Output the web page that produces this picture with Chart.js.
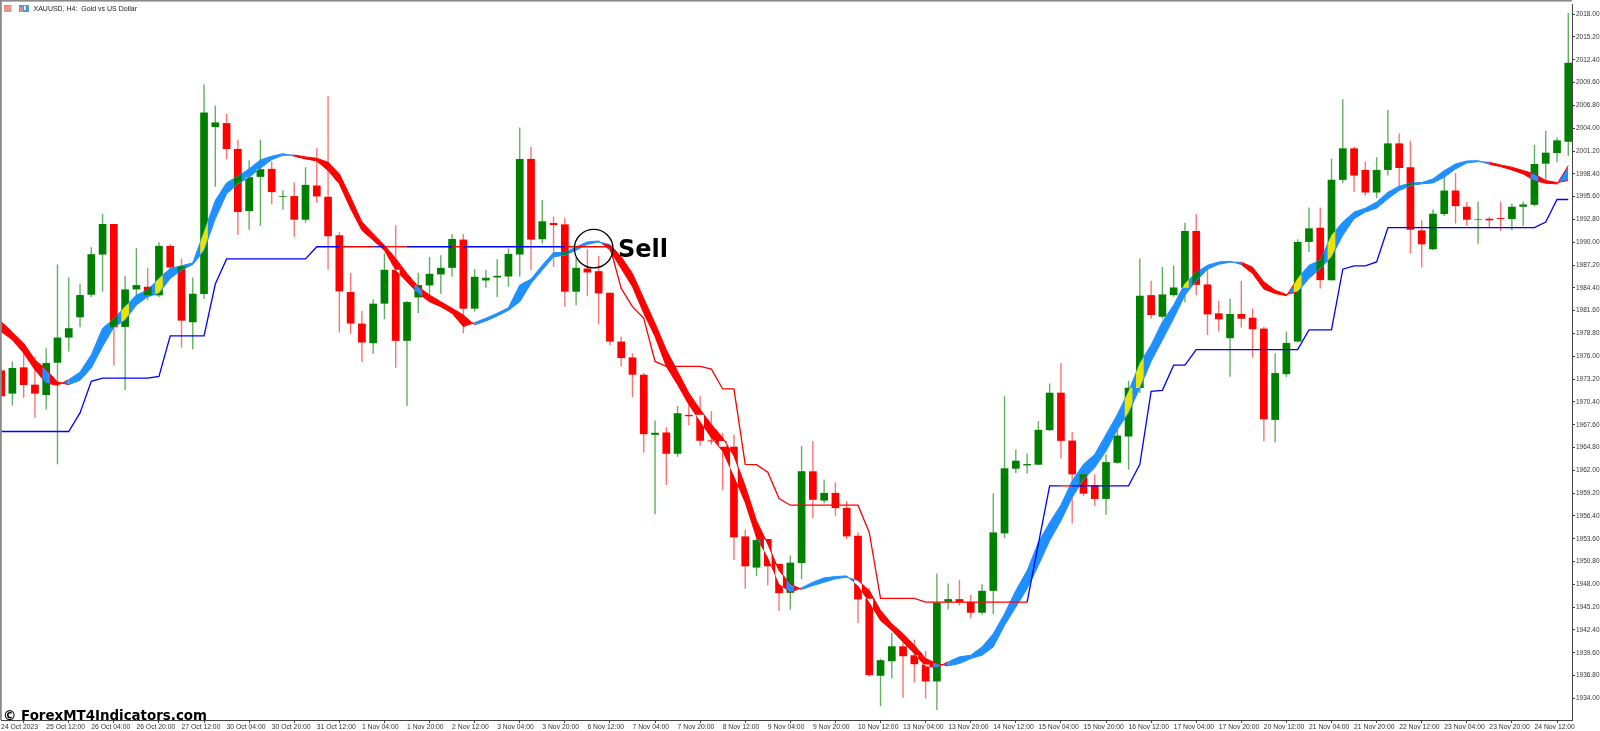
<!DOCTYPE html>
<html>
<head>
<meta charset="utf-8">
<title>XAUUSD, H4</title>
<script src="https://cdn.jsdelivr.net/npm/chart.js@4"></script>
<style>
    html, body { margin: 0; padding: 0; background: #fff; }
    #chart { display: block; }
</style>
</head>
<body>
<canvas id="chart" width="1600" height="731"></canvas>
<script>
const dateLabels = ['24 Oct 2023', '25 Oct 12:00', '26 Oct 04:00', '26 Oct 20:00', '27 Oct 12:00', '30 Oct 04:00', '30 Oct 20:00',
    '31 Oct 12:00', '1 Nov 04:00', '1 Nov 20:00', '2 Nov 12:00', '3 Nov 04:00', '3 Nov 20:00', '6 Nov 12:00', '7 Nov 04:00',
    '7 Nov 20:00', '8 Nov 12:00', '9 Nov 04:00', '9 Nov 20:00', '10 Nov 12:00', '13 Nov 04:00', '13 Nov 20:00', '14 Nov 12:00',
    '15 Nov 04:00', '15 Nov 20:00', '16 Nov 12:00', '17 Nov 04:00', '17 Nov 20:00', '20 Nov 12:00', '21 Nov 04:00', '21 Nov 20:00',
    '22 Nov 12:00', '23 Nov 04:00', '23 Nov 20:00', '24 Nov 12:00'];

const priceTicks = [2018.0, 2015.2, 2012.4, 2009.6, 2006.8, 2004.0, 2001.2, 1998.4, 1995.6, 1992.8, 1990.0, 1987.2, 1984.4, 1981.6, 1978.8, 1976.0,
    1973.2, 1970.4, 1967.6, 1964.8, 1962.0, 1959.2, 1956.4, 1953.6, 1950.8, 1948.0, 1945.2, 1942.4, 1939.6, 1936.8, 1934.0];

const opens = [
    1974.27, 1971.42, 1974.64, 1972.52, 1971.25, 1975.21, 1978.30, 1980.79, 1983.56, 1988.49,
    1992.24, 1979.61, 1984.21, 1984.54, 1983.48, 1989.55, 1987.07, 1980.18, 1983.64, 2004.14,
    2004.63, 2001.45, 1993.83, 1998.03, 1999.01, 1995.58, 1995.67, 1992.77, 1996.97, 1995.58,
    1990.86, 1983.89, 1980.02, 1977.61, 1982.46, 1986.62, 1977.90, 1983.23, 1984.70, 1986.05,
    1986.86, 1990.33, 1981.85, 1985.31, 1985.68, 1985.80, 1988.49, 2000.23, 1990.37, 1992.36,
    1992.20, 1983.93, 1986.78, 1986.45, 1983.80, 1977.81, 1975.86, 1973.74, 1966.36, 1966.65,
    1964.04, 1968.81, 1968.81, 1965.67, 1965.59, 1964.90, 1953.89, 1950.06, 1953.57, 1950.51,
    1946.96, 1950.63, 1961.88, 1958.29, 1959.23, 1957.40, 1953.97, 1946.23, 1936.78, 1938.57,
    1940.40, 1939.30, 1938.16, 1936.08, 1945.86, 1946.19, 1945.82, 1944.52, 1947.21, 1954.26,
    1962.20, 1962.61, 1962.69, 1966.93, 1971.53, 1965.66, 1961.51, 1960.16, 1958.49, 1962.93,
    1966.15, 1972.10, 1983.51, 1980.86, 1983.51, 1984.41, 1991.38, 1984.82, 1981.27, 1978.22,
    1981.19, 1980.74, 1979.40, 1968.19, 1973.81, 1977.81, 1990.04, 1991.79, 1985.35, 1997.66,
    2001.53, 1998.88, 1996.11, 1998.88, 2002.14, 1999.21, 1991.46, 1989.14, 1993.46, 1996.35,
    1994.36, 1992.77, 1992.89, 1992.97, 1992.85, 1994.36, 1994.60, 1999.65, 2000.96, 2002.34];

const closes = [
    1971.09, 1974.56, 1972.48, 1971.42, 1975.17, 1978.30, 1979.45, 1983.52, 1988.53, 1992.24,
    1979.57, 1984.21, 1984.74, 1983.48, 1989.55, 1986.90, 1980.38, 1983.68, 2005.94, 2004.71,
    2001.45, 1993.71, 1997.99, 1998.97, 1996.16, 1995.67, 1992.77, 1997.05, 1995.63, 1990.74,
    1983.97, 1980.02, 1977.69, 1982.46, 1986.62, 1977.90, 1982.66, 1984.74, 1986.13, 1986.86,
    1990.41, 1981.85, 1985.76, 1985.64, 1985.88, 1988.57, 2000.23, 1990.33, 1992.57, 1992.12,
    1983.93, 1986.86, 1986.29, 1983.72, 1977.81, 1975.78, 1973.74, 1966.44, 1966.61, 1964.04,
    1969.01, 1968.64, 1965.63, 1965.55, 1964.90, 1953.77, 1950.22, 1953.44, 1950.22, 1946.92,
    1950.67, 1961.88, 1958.38, 1959.23, 1957.36, 1953.89, 1946.15, 1936.86, 1938.69, 1940.40,
    1939.18, 1938.20, 1936.08, 1945.74, 1946.19, 1945.82, 1944.52, 1947.21, 1954.38, 1962.25,
    1963.18, 1962.77, 1966.97, 1971.53, 1965.62, 1961.51, 1959.14, 1958.49, 1963.01, 1966.27,
    1972.14, 1983.43, 1981.07, 1983.59, 1984.45, 1991.38, 1984.78, 1981.15, 1980.54, 1981.19,
    1980.62, 1979.32, 1968.27, 1973.94, 1977.64, 1990.03, 1991.71, 1985.35, 1997.66, 2001.53,
    1998.19, 1996.11, 1998.88, 2002.14, 1999.12, 1991.54, 1989.75, 1993.50, 1996.35, 1994.44,
    1992.77, 1992.85, 1992.69, 1992.85, 1994.36, 1994.64, 1999.61, 2001.00, 2002.51, 2012.04];

const highs = [
    1974.27, 1975.37, 1977.00, 1975.98, 1977.00, 1987.27, 1985.68, 1984.83, 1989.39, 1993.47,
    1992.24, 1985.89, 1989.31, 1986.86, 1990.00, 1989.76, 1988.00, 1985.68, 2009.36, 2006.79,
    2005.77, 2002.59, 2000.07, 2002.59, 1999.91, 1996.40, 1997.34, 1999.21, 2001.54, 2007.93,
    1991.26, 1986.25, 1981.57, 1982.99, 1988.62, 1992.08, 1982.79, 1986.25, 1988.21, 1988.41,
    1991.02, 1991.02, 1986.70, 1986.62, 1987.92, 1989.23, 2004.10, 2001.74, 1995.18, 1993.18,
    1992.97, 1988.12, 1989.14, 1988.33, 1983.80, 1978.43, 1976.39, 1973.94, 1968.11, 1967.30,
    1969.91, 1970.07, 1971.09, 1969.26, 1966.61, 1966.40, 1954.75, 1954.67, 1953.57, 1950.51,
    1951.53, 1964.98, 1965.59, 1960.86, 1960.54, 1958.25, 1954.38, 1947.58, 1938.89, 1942.07,
    1941.34, 1941.22, 1939.83, 1949.33, 1948.11, 1948.55, 1946.72, 1948.02, 1959.19, 1971.09,
    1964.56, 1964.07, 1968.03, 1972.67, 1975.16, 1966.72, 1962.32, 1961.51, 1963.95, 1968.72,
    1973.00, 1988.00, 1985.27, 1986.98, 1987.14, 1992.40, 1993.46, 1986.69, 1982.82, 1983.06,
    1985.27, 1981.88, 1979.64, 1976.38, 1979.03, 1990.36, 1994.27, 1994.27, 2000.27, 2007.56,
    2001.77, 1999.90, 2000.43, 2006.26, 2003.36, 2002.47, 1992.69, 1994.03, 1998.27, 1998.51,
    1994.93, 1995.01, 1993.09, 1995.01, 1994.72, 1995.01, 2001.98, 2003.69, 2002.87, 2018.16];

const lows = [
    1971.09, 1969.95, 1970.89, 1968.44, 1969.46, 1962.74, 1976.59, 1979.57, 1983.28, 1983.93,
    1974.88, 1971.87, 1982.38, 1982.87, 1983.24, 1985.56, 1977.08, 1976.88, 1983.03, 1996.81,
    2000.19, 1990.90, 1991.55, 1992.00, 1994.65, 1994.00, 1990.69, 1992.41, 1994.85, 1986.66,
    1978.92, 1978.75, 1975.29, 1976.31, 1980.55, 1974.60, 1969.91, 1981.32, 1983.36, 1983.64,
    1985.76, 1978.83, 1981.48, 1984.42, 1983.27, 1984.54, 1985.76, 1986.58, 1989.84, 1986.98,
    1982.09, 1982.26, 1983.36, 1979.93, 1977.37, 1974.76, 1971.01, 1964.16, 1956.62, 1960.21,
    1963.67, 1967.54, 1965.06, 1965.18, 1959.56, 1951.00, 1947.45, 1949.00, 1947.86, 1944.72,
    1944.89, 1948.64, 1956.13, 1957.97, 1956.42, 1953.53, 1943.26, 1936.65, 1933.07, 1936.45,
    1934.09, 1935.96, 1934.00, 1932.58, 1944.93, 1945.42, 1943.83, 1944.27, 1944.36, 1953.69,
    1961.67, 1961.59, 1962.65, 1966.84, 1963.46, 1955.47, 1958.86, 1957.63, 1956.54, 1962.81,
    1962.08, 1971.49, 1980.62, 1980.66, 1983.31, 1982.62, 1983.51, 1978.62, 1979.03, 1973.49,
    1979.52, 1975.85, 1965.58, 1965.46, 1973.45, 1977.69, 1988.81, 1984.33, 1985.30, 1997.25,
    1996.15, 1995.74, 1995.42, 1998.19, 1996.76, 1988.61, 1986.90, 1989.06, 1993.22, 1992.28,
    1991.99, 1989.83, 1991.87, 1991.42, 1991.50, 1991.99, 1994.40, 1997.29, 1999.82, 2000.63];

// ribbon: fast above slow paints blue, fast below slow paints red
const ribbonFast = [
    1979.04, 1978.02, 1976.39, 1974.35, 1972.72, 1972.44, 1973.13, 1974.07, 1976.19, 1979.45,
    1980.59, 1982.10, 1983.52, 1984.13, 1985.56, 1986.78, 1987.11, 1987.47, 1991.26, 1995.14,
    1997.30, 1998.11, 1999.01, 2000.11, 2000.56, 2000.88, 2000.56, 2000.23, 1999.99, 1998.80,
    1997.17, 1994.12, 1991.47, 1990.25, 1989.02, 1986.58, 1985.15, 1983.72, 1982.70, 1982.09,
    1981.28, 1979.65, 1980.14, 1980.67, 1981.28, 1981.97, 1984.74, 1985.48, 1987.19, 1988.74,
    1988.74, 1989.43, 1990.04, 1990.16, 1989.02, 1986.78, 1984.54, 1981.28, 1978.43, 1974.76,
    1972.52, 1970.07, 1968.03, 1966.00, 1964.37, 1961.31, 1958.05, 1953.77, 1951.33, 1948.06,
    1947.05, 1947.58, 1948.27, 1948.80, 1948.96, 1949.04, 1947.86, 1945.82, 1943.58, 1942.36,
    1940.93, 1939.51, 1937.96, 1937.79, 1938.49, 1939.10, 1939.30, 1940.32, 1941.95, 1944.40,
    1947.25, 1949.69, 1953.16, 1955.60, 1957.76, 1960.70, 1962.74, 1963.96, 1966.40, 1968.84,
    1971.69, 1975.16, 1977.40, 1980.25, 1982.29, 1984.94, 1986.28, 1987.18, 1987.59, 1987.67,
    1987.26, 1986.16, 1984.25, 1983.72, 1983.43, 1985.55, 1987.18, 1987.79, 1990.85, 1992.48,
    1993.70, 1994.19, 1994.93, 1996.15, 1996.88, 1997.29, 1997.33, 1997.78, 1998.80, 1999.61,
    1999.98, 2000.02, 1999.57, 1999.29, 1998.88, 1998.39, 1997.58, 1997.25, 1997.17, 1999.41];

const ribbonSlow = [
    1980.26, 1978.96, 1977.61, 1975.57, 1974.35, 1972.84, 1972.52, 1973.05, 1974.56, 1977.20,
    1979.57, 1980.46, 1982.30, 1983.32, 1983.73, 1985.56, 1986.58, 1987.27, 1989.02, 1992.90,
    1995.95, 1997.17, 1997.99, 1999.09, 2000.15, 2000.68, 2000.72, 2000.48, 2000.31, 1999.82,
    1998.40, 1995.54, 1992.49, 1991.06, 1989.63, 1988.00, 1986.17, 1984.54, 1983.52, 1982.70,
    1981.89, 1981.07, 1979.85, 1980.34, 1980.95, 1981.64, 1982.70, 1984.95, 1986.58, 1988.21,
    1988.41, 1989.02, 1989.75, 1990.04, 1989.71, 1988.21, 1986.17, 1983.11, 1980.06, 1976.79,
    1974.15, 1971.50, 1969.46, 1967.63, 1966.00, 1963.76, 1960.09, 1955.81, 1952.96, 1949.69,
    1948.06, 1947.37, 1947.86, 1948.27, 1948.68, 1948.88, 1948.47, 1947.25, 1944.80, 1943.17,
    1941.95, 1940.53, 1938.89, 1938.28, 1938.00, 1938.28, 1938.89, 1939.30, 1940.32, 1942.97,
    1945.21, 1947.45, 1950.31, 1953.36, 1955.81, 1958.66, 1960.90, 1962.33, 1964.36, 1967.01,
    1969.05, 1972.10, 1975.36, 1978.01, 1980.66, 1983.51, 1985.27, 1986.69, 1987.30, 1987.55,
    1987.55, 1986.94, 1985.14, 1984.12, 1983.59, 1983.92, 1985.55, 1986.78, 1988.20, 1990.85,
    1992.89, 1993.70, 1994.19, 1995.33, 1996.35, 1996.96, 1997.17, 1997.29, 1997.98, 1999.00,
    1999.74, 1999.90, 1999.82, 1999.49, 1999.21, 1998.80, 1998.39, 1997.58, 1997.33, 1997.58];

const stopLine = [
    1966.77, 1966.77, 1966.77, 1966.77, 1966.77, 1966.77, 1966.77, 1969.05, 1972.93, 1973.33,
    1973.33, 1973.33, 1973.33, 1973.33, 1973.54, 1978.51, 1978.51, 1978.51, 1978.51, 1984.87,
    1987.96, 1987.96, 1987.96, 1987.96, 1987.96, 1987.96, 1987.96, 1987.96, 1989.45, 1989.45,
    1989.45, 1989.45, 1989.45, 1989.45, 1989.45, 1989.45, 1989.45, 1989.45, 1989.45, 1989.45,
    1989.45, 1989.45, 1989.45, 1989.45, 1989.45, 1989.45, 1989.45, 1989.45, 1989.45, 1989.45,
    1989.45, 1989.45, 1989.45, 1989.45, 1989.45, 1984.33, 1982.09, 1980.67, 1975.37, 1974.76,
    1974.76, 1974.76, 1974.76, 1974.43, 1971.99, 1971.99, 1962.74, 1962.70, 1961.76, 1958.54,
    1957.72, 1957.72, 1957.72, 1957.72, 1957.72, 1957.72, 1957.72, 1954.38, 1946.27, 1946.27,
    1946.27, 1946.27, 1945.82, 1945.82, 1945.82, 1945.82, 1945.82, 1945.82, 1945.82, 1945.82,
    1945.82, 1945.82, 1952.96, 1960.09, 1960.09, 1960.09, 1960.09, 1960.09, 1960.09, 1960.09,
    1960.09, 1962.73, 1971.69, 1971.82, 1974.91, 1974.91, 1976.83, 1976.83, 1976.83, 1976.83,
    1976.83, 1976.83, 1976.83, 1976.83, 1976.83, 1976.83, 1979.24, 1979.24, 1979.24, 1986.70,
    1987.10, 1987.10, 1987.59, 1991.79, 1991.79, 1991.79, 1991.79, 1991.79, 1991.79, 1991.79,
    1991.79, 1991.79, 1991.79, 1991.79, 1991.79, 1991.79, 1991.79, 1992.48, 1995.25, 1995.25];

// candle index ranges where the stop line is red instead of blue
const stopRedRanges = [[30, 32], [34, 35], [40, 40], [50, 90], [94, 94]];

const sellIndex = 52.56;
const sellPrice = 1989.22;

const BLUE = '#1e90ff';
const RED = '#ff0000';
const GREEN = '#008000';
const BODY_WIDTH = 7.7;

const isUp = i => closes[i] >= opens[i];
const indexes = opens.map((v, i) => i);
const toPoints = arr => arr.map((v, i) => ({ x: i, y: v }));
const stopIsRed = i => stopRedRanges.some(r => i >= r[0] && i <= r[1]);

// ribbon over a candle body shows the terminal's mixed colours
const mixedColor = (ribbonUp, bodyUp) => {
    if (ribbonUp) return bodyUp ? '#e6e600' : '#007f00';
    return bodyUp ? BLUE : '#ffffff';
};

const RIBBON_DATASET = 2;

const bodyOverlap = {
    id: 'bodyOverlap',
    afterDatasetDraw(chart, args) {
        if (args.index !== RIBBON_DATASET) return;
        const { ctx, chartArea, scales: { x, y } } = chart;
        ctx.save();
        ctx.beginPath();
        ctx.rect(chartArea.left, chartArea.top, chartArea.width, chartArea.height);
        ctx.clip();
        indexes.forEach(k => {
            const left = x.getPixelForValue(k) - BODY_WIDTH / 2;
            const top = y.getPixelForValue(Math.max(opens[k], closes[k]));
            const bottom = y.getPixelForValue(Math.min(opens[k], closes[k]));
            ctx.save();
            ctx.beginPath();
            ctx.rect(left, top, BODY_WIDTH, bottom - top);
            ctx.clip();
            [true, false].forEach(up => {
                ctx.beginPath();
                for (let j = Math.max(k - 1, 0); j <= k && j < indexes.length - 1; j++) {
                    const spread = ribbonFast[j] - ribbonSlow[j] + ribbonFast[j + 1] - ribbonSlow[j + 1];
                    if ((spread > 0) !== up) continue;
                    ctx.moveTo(x.getPixelForValue(j), y.getPixelForValue(ribbonFast[j]));
                    ctx.lineTo(x.getPixelForValue(j + 1), y.getPixelForValue(ribbonFast[j + 1]));
                    ctx.lineTo(x.getPixelForValue(j + 1), y.getPixelForValue(ribbonSlow[j + 1]));
                    ctx.lineTo(x.getPixelForValue(j), y.getPixelForValue(ribbonSlow[j]));
                    ctx.closePath();
                }
                ctx.fillStyle = mixedColor(up, isUp(k));
                ctx.fill();
            });
            ctx.restore();
        });
        ctx.restore();
    }
};

const annotations = {
    id: 'annotations',
    afterDraw(chart) {
        const { ctx, scales: { x, y } } = chart;
        ctx.save();

        // window frame
        ctx.fillStyle = '#8a8a8a';
        ctx.fillRect(0, 0, 1.8, 720);
        ctx.fillRect(0, 0, 1572, 1.6);

        // toolbar icons next to the title
        ctx.fillStyle = '#f08a80';
        ctx.fillRect(4, 5, 7.5, 7);
        ctx.fillStyle = '#9fd4ec';
        ctx.fillRect(5.5, 7, 1.6, 1.2);
        ctx.fillRect(8.4, 7, 1.6, 1.2);
        ctx.fillRect(5.5, 9.4, 1.6, 1.2);
        ctx.fillRect(8.4, 9.4, 1.6, 1.2);
        ctx.fillStyle = '#4a9fd0';
        ctx.fillRect(19, 5, 10, 7);
        ctx.fillStyle = '#f08a80';
        ctx.fillRect(20, 7, 2.6, 5);
        ctx.fillStyle = '#fff';
        ctx.fillRect(24, 6, 1.6, 4);

        ctx.fillStyle = '#222';
        ctx.font = '7px "Liberation Sans"';
        ctx.textBaseline = 'alphabetic';
        ctx.textAlign = 'left';
        ctx.fillText('XAUUSD, H4:  Gold vs US Dollar', 33.5, 11);

        // sell marker
        const cx = x.getPixelForValue(sellIndex);
        const cy = y.getPixelForValue(sellPrice);
        ctx.strokeStyle = '#000';
        ctx.lineWidth = 1.3;
        ctx.beginPath();
        ctx.arc(cx, cy, 19.3, 0, Math.PI * 2);
        ctx.stroke();

        ctx.fillStyle = '#000';
        ctx.font = 'bold 24px "DejaVu Sans"';
        ctx.fillText('Sell', 618, 256.7);

        // watermark
        ctx.font = 'bold 13.4px "DejaVu Sans"';
        ctx.fillText('\u00a9 ForexMT4Indicators.com', 3, 719.5);
        ctx.restore();
    }
};

new Chart(document.getElementById('chart').getContext('2d'), {
    type: 'bar',
    data: {
        datasets: [
            {
                label: 'Wicks',
                data: indexes.map(i => ({ x: i, y: [lows[i], highs[i]] })),
                backgroundColor: indexes.map(i => isUp(i) ? 'rgba(0,128,0,0.62)' : 'rgba(255,0,0,0.55)'),
                maxBarThickness: 1.4,
                grouped: false,
                order: 6
            },
            {
                label: 'Candles',
                data: indexes.map(i => ({ x: i, y: [opens[i], closes[i]] })),
                backgroundColor: indexes.map(i => isUp(i) ? GREEN : RED),
                maxBarThickness: BODY_WIDTH,
                grouped: false,
                order: 5
            },
            {
                type: 'line',
                label: 'Ribbon fast',
                data: toPoints(ribbonFast),
                borderWidth: 1,
                pointRadius: 0,
                tension: 0,
                fill: { target: '+1', above: BLUE, below: RED },
                segment: { borderColor: c => ribbonFast[c.p0DataIndex] >= ribbonSlow[c.p0DataIndex] ? BLUE : RED },
                order: 3
            },
            {
                type: 'line',
                label: 'Ribbon slow',
                data: toPoints(ribbonSlow),
                borderWidth: 1,
                pointRadius: 0,
                tension: 0,
                fill: false,
                segment: { borderColor: c => ribbonFast[c.p0DataIndex] >= ribbonSlow[c.p0DataIndex] ? BLUE : RED },
                order: 2
            },
            {
                type: 'line',
                label: 'Stop line',
                data: toPoints(stopLine),
                borderWidth: 1.3,
                pointRadius: 0,
                tension: 0,
                fill: false,
                segment: { borderColor: c => stopIsRed(c.p0DataIndex) ? RED : '#0000ff' },
                order: 1
            }
        ]
    },
    options: {
        responsive: false,
        animation: false,
        events: [],
        layout: { padding: { left: 1.1, top: 2, right: 0, bottom: 0 } },
        plugins: { legend: { display: false }, tooltip: { enabled: false } },
        scales: {
            x: {
                type: 'linear',
                offset: false,
                min: 0,
                max: 139.33,
                afterBuildTicks: s => { s.ticks = dateLabels.map((d, i) => ({ value: i * 4 })); },
                afterFit: s => { s.height = 11; s.paddingLeft = 0; s.paddingRight = 0; },
                grid: { drawOnChartArea: false, drawTicks: true, tickLength: 3, color: '#444' },
                border: { color: '#444', width: 1 },
                ticks: {
                    align: 'start',
                    autoSkip: false,
                    maxRotation: 0,
                    minRotation: 0,
                    padding: 0,
                    color: '#333',
                    font: { family: '"Liberation Sans"', size: 6.8 },
                    callback: v => dateLabels[v / 4]
                }
            },
            y: {
                position: 'right',
                min: 1931.35,
                max: 2019.14,
                afterBuildTicks: s => { s.ticks = priceTicks.map(v => ({ value: v })); },
                afterFit: s => { s.width = 28; },
                grid: { drawOnChartArea: false, drawTicks: true, tickLength: 3, color: '#444' },
                border: { color: '#444', width: 1 },
                ticks: {
                    autoSkip: false,
                    padding: 1,
                    color: '#333',
                    font: { family: '"Liberation Sans"', size: 6.5 },
                    callback: v => v.toFixed(2)
                }
            }
        }
    },
    plugins: [bodyOverlap, annotations]
});
</script>
</body>
</html>
